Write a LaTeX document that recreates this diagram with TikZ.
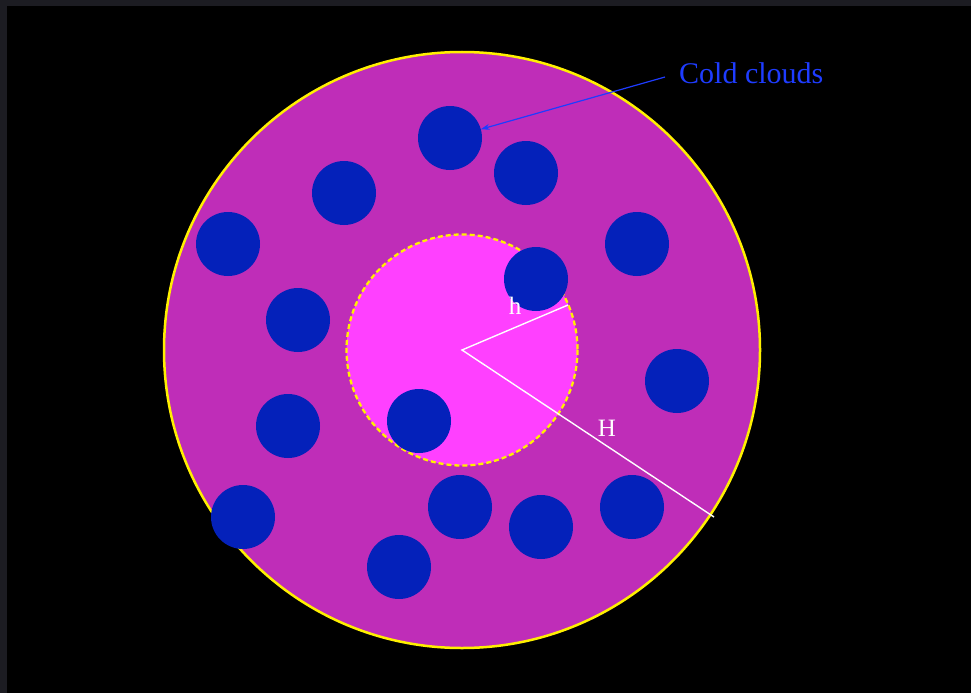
\documentclass[tikz,border=0pt]{standalone}
\usepackage{fontspec}
\setmainfont{Liberation Serif}
\usetikzlibrary{arrows.meta}
\definecolor{frame}{HTML}{1C1C22}
\definecolor{outerfill}{HTML}{BF2DB8}
\definecolor{innerfill}{HTML}{FF40FF}
\definecolor{cloudblue}{HTML}{0421BA}
\definecolor{labelblue}{HTML}{1E3CFF}
\definecolor{ringyellow}{HTML}{FFF000}
\tikzset{
  cloud/.style={circle, fill=cloudblue, minimum size=64pt, inner sep=0pt, outer sep=0pt},
  radiusline/.style={white, line width=1.4pt},
  radlabel/.style={text=white, font=\fontsize{25}{25}\selectfont, inner sep=0pt},
}
\begin{document}
\begin{tikzpicture}[x=1pt,y=-1pt]
\useasboundingbox (0,0) rectangle (971,693);
\fill[frame] (0,0) rectangle (971,693);
\fill[black] (7,6) rectangle (971,693);
% outer disc
\coordinate (O) at (462,350);
\draw[ringyellow, line width=2.5pt, fill=outerfill] (O) circle[radius=298];
% inner disc
\draw[ringyellow, line width=2.3pt, dash pattern=on 5pt off 3pt, fill=innerfill] (O) circle[radius=115.5];
% clouds
\node[cloud] (c1) at (450,138) {};
\node[cloud] (c2) at (526,173) {};
\node[cloud] (c3) at (344,193) {};
\node[cloud] (c4) at (228,244) {};
\node[cloud] (c5) at (637,244) {};
\node[cloud] (c6) at (536,279) {};
\node[cloud] (c7) at (298,320) {};
\node[cloud] (c8) at (677,381) {};
\node[cloud] (c9) at (288,426) {};
\node[cloud] (c10) at (419,421) {};
\node[cloud] (c11) at (460,507) {};
\node[cloud] (c12) at (541,527) {};
\node[cloud] (c13) at (632,507) {};
\node[cloud] (c14) at (243,517) {};
\node[cloud] (c15) at (399,567) {};
% radii
\coordinate (hend) at (568,305);
\coordinate (Hend) at (714,517);
\draw[radiusline] (hend) -- (O) -- (Hend);
\node[radlabel] (hlab) at (515,306) {h};
\node[radlabel] (Hlab) at (607,428) {H};
% label
\node[text=labelblue, font=\fontsize{30}{30}\selectfont, inner sep=0pt, anchor=west] (cold) at (679,73) {Cold clouds};
\draw[labelblue, line width=1.2pt, -{Stealth[length=9pt,width=6pt]}] (665,77) -- (c1);
\end{tikzpicture}
\end{document}
